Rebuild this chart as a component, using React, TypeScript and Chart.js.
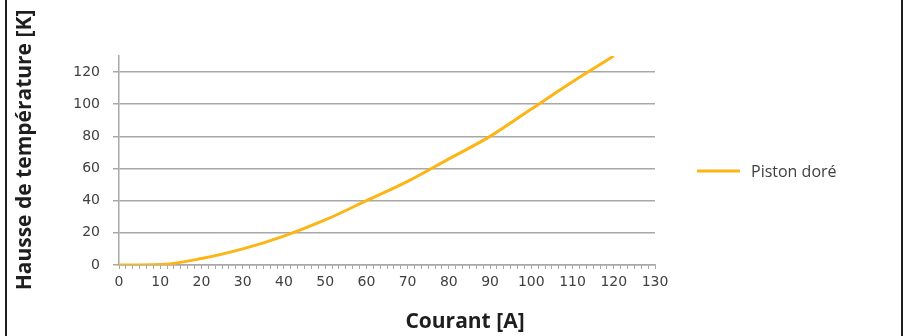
import React, { useEffect, useRef } from "react";
import { Chart, registerables } from "chart.js";

Chart.register(...registerables);

// Data
const currents = [0, 10, 20, 30, 40, 50, 60, 70, 80, 90, 100, 110, 120];
const temperatureRise = [0, 0.3, 4, 10, 18, 28, 40, 52, 66, 80, 97, 114, 130];
const seriesLabel = "Piston doré";
const xTitle = "Courant [A]";
const yTitle = "Hausse de température [K]";
const yTickValues = [0, 20, 40, 60, 80, 100, 120];
const xMax = 130;
const yMax = 130;
const xMinorPerMajor = 6;
const xMajorStep = 10;

const LINE_COLOR = "#FDB515";
const GRID_COLOR = "#a8a8a8";
const TEXT_COLOR = "#404040";
const TITLE_COLOR = "#1e1e1e";

const overlayPlugin = {
  id: "overlayTexts",
  afterDraw(chart: any) {
    const { ctx, chartArea } = chart;
    ctx.save();
    // y-axis title
    ctx.save();
    ctx.translate(31, 150);
    ctx.rotate(-Math.PI / 2);
    ctx.font = 'bold 21px "Open Sans"';
    ctx.fillStyle = TITLE_COLOR;
    ctx.textAlign = "center";
    ctx.textBaseline = "alphabetic";
    ctx.fillText(yTitle, 0, 0);
    ctx.restore();
    // x-axis title
    ctx.font = 'bold 21px "Open Sans"';
    ctx.fillStyle = TITLE_COLOR;
    ctx.textAlign = "center";
    ctx.textBaseline = "alphabetic";
    ctx.fillText(xTitle, 465, 328);
    // legend
    const lx = chartArea.right + 42;
    const ly = 171;
    ctx.strokeStyle = LINE_COLOR;
    ctx.lineWidth = 3;
    ctx.beginPath();
    ctx.moveTo(lx, ly);
    ctx.lineTo(lx + 43, ly);
    ctx.stroke();
    ctx.font = '16px "Open Sans"';
    ctx.fillStyle = TEXT_COLOR;
    ctx.textAlign = "left";
    ctx.fillText(seriesLabel, lx + 54, 177);
    ctx.restore();
  },
};

export default function App() {
  const canvasRef = useRef<HTMLCanvasElement | null>(null);

  useEffect(() => {
    document.body.style.margin = "0";
    const canvas = canvasRef.current;
    if (!canvas) return;
    const chart = new Chart(canvas, {
      type: "line",
      data: {
        datasets: [
          {
            label: seriesLabel,
            data: currents.map((x, i) => ({ x, y: temperatureRise[i] })),
            borderColor: LINE_COLOR,
            backgroundColor: LINE_COLOR,
            borderWidth: 3,
            pointRadius: 0,
            cubicInterpolationMode: "monotone",
            fill: false,
          },
        ],
      },
      options: {
        responsive: false,
        animation: false,
        devicePixelRatio: 1,
        layout: { padding: { left: 0, right: 251, top: 56, bottom: 0 } },
        plugins: {
          legend: { display: false },
          tooltip: { enabled: false },
        },
        scales: {
          x: {
            type: "linear",
            min: 0,
            max: xMax,
            afterBuildTicks: (scale: any) => {
              const n = (xMax / xMajorStep) * xMinorPerMajor;
              const t = [];
              for (let i = 0; i <= n; i++) t.push({ value: (i * xMajorStep) / xMinorPerMajor });
              scale.ticks = t;
            },
            afterFit: (scale: any) => {
              scale.height = 71;
            },
            ticks: {
              autoSkip: false,
              maxRotation: 0,
              padding: 5,
              color: TEXT_COLOR,
              font: { family: '"DejaVu Sans"', size: 14 },
              callback: (v: any) => {
                const r = Math.round(v / xMajorStep);
                return Math.abs(v / xMajorStep - r) < 1e-6 ? String(r * xMajorStep) : "";
              },
            },
            grid: {
              drawOnChartArea: false,
              drawTicks: true,
              tickLength: 4,
              color: GRID_COLOR,
            },
            border: { display: true, color: GRID_COLOR, width: 1.5 },
          },
          y: {
            type: "linear",
            min: 0,
            max: yMax,
            afterBuildTicks: (scale: any) => {
              scale.ticks = yTickValues.map((value) => ({ value }));
            },
            afterFit: (scale: any) => {
              scale.width = 119;
            },
            ticks: {
              padding: 13,
              color: TEXT_COLOR,
              font: { family: '"DejaVu Sans"', size: 14 },
            },
            grid: {
              color: GRID_COLOR,
              lineWidth: 1.5,
              tickLength: 6,
            },
            border: { display: true, color: GRID_COLOR, width: 1.5 },
          },
        },
      },
      plugins: [overlayPlugin],
    });
    return () => chart.destroy();
  }, []);

  return (
    <div style={{ position: "fixed", left: 0, top: 0, width: 906, height: 336, background: "#fff" }}>
      <div
        style={{
          position: "absolute",
          left: 5,
          top: 0,
          width: 894,
          height: 336,
          borderLeft: "2px solid #1e1e1e",
          borderRight: "2px solid #1e1e1e",
          pointerEvents: "none",
        }}
      />
      <canvas ref={canvasRef} width={906} height={336} style={{ position: "absolute", left: 0, top: 0 }} />
    </div>
  );
}
